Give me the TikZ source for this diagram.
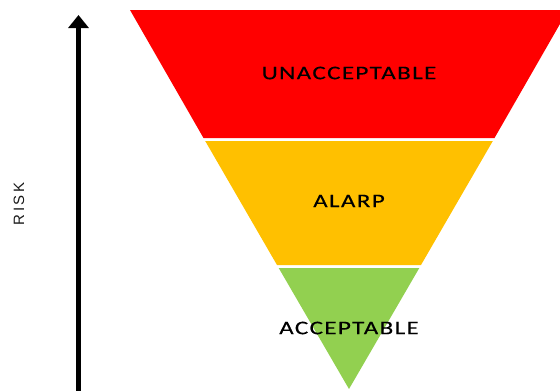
\documentclass[tikz,border=0pt]{standalone}
\usepackage{fontspec}
\setmainfont{Carlito}
\newfontfamily\bandfont[LetterSpace=7,FakeStretch=1.3,FakeBold=0.3]{Carlito}
\newfontfamily\axisfont[LetterSpace=16]{Liberation Sans}
\usetikzlibrary{arrows.meta}
\definecolor{rred}{HTML}{FF0000}
\definecolor{ryellow}{HTML}{FFC000}
\definecolor{rgreen}{HTML}{92D050}
\begin{document}
\begin{tikzpicture}[x=1pt,y=-1pt,
  band/.style={draw=none},
  bandlabel/.style={font=\bandfont\fontsize{19.3}{19.3}\selectfont, text=black, inner sep=0pt},
  axislabel/.style={font=\axisfont\fontsize{15}{15}\selectfont, text=black!90, inner sep=0pt, rotate=90}]
\useasboundingbox (0,0) rectangle (560,391);
% bands
\fill[rred,band] (130,10) -- (568,10) -- (494.5,138) -- (203.5,138) -- cycle;
\fill[ryellow,band] (205.2,141) -- (492.8,141) -- (421,265) -- (277,265) -- cycle;
\fill[rgreen,band] (278.7,268) -- (419.3,268) -- (349,389) -- cycle;
\node[bandlabel] (u) at (349,73) {UNACCEPTABLE};
\node[bandlabel] (a) at (349,201) {ALARP};
\node[bandlabel] (c) at (349,328) {ACCEPTABLE};
% axis
\coordinate (ab) at (78.5,392);
\coordinate (at) at (78.5,15);
\draw[line width=4.5pt, -{Triangle[length=13pt,width=20pt]}] (ab) -- (at);
\node[axislabel] (r) at (19,204) {RISK};
\end{tikzpicture}
\end{document}
